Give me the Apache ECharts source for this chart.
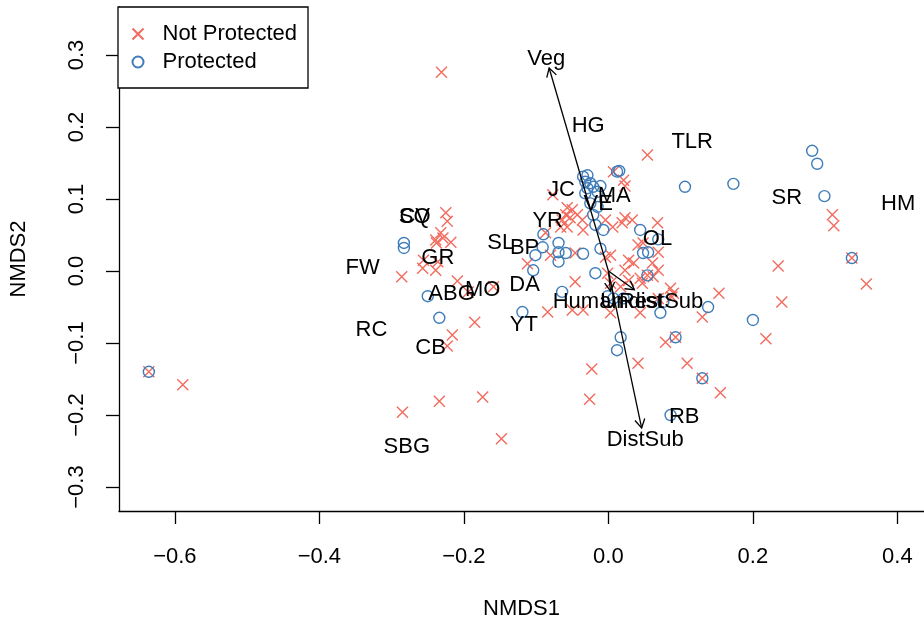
<!DOCTYPE html>
<html>
<head>
<meta charset="utf-8">
<script src="https://cdn.jsdelivr.net/npm/echarts@6/dist/echarts.min.js"></script>
<style>
  html, body { margin: 0; padding: 0; background: #fff; }
  #chart { width: 924px; height: 626px; }
</style>
</head>
<body>
<div id="chart"></div>
<script>
// NMDS site scores: not protected sites
const npX = [-0.636,-0.589,-0.231,-0.285,-0.234,-0.174,-0.148,-0.023,-0.026,0.041,0.109,0.130,0.155,0.079,0.093,0.054,
  0.310,0.312,0.337,0.357,0.235,0.240,0.218,0.153,0.130,
  -0.225,-0.223,-0.232,-0.239,-0.229,-0.218,-0.238,-0.256,-0.236,-0.257,-0.239,-0.286,-0.209,-0.194,-0.159,-0.185,-0.216,-0.223,
  -0.077,-0.057,-0.050,-0.059,-0.064,-0.053,-0.043,-0.036,-0.066,-0.087,-0.057,-0.035,0.007,0.021,0.023,0.023,0.033,0.019,0.006,-0.004,
  0.068,0.048,0.003,0.028,0.035,0.061,0.069,0.023,-0.001,0.044,0.062,0.086,0.090,0.069,0.003,0.054,-0.112,-0.080,-0.046,-0.046,
  -0.084,-0.050,-0.035,0.044,0.041,0.069,0.088,0.003,0.028,0.017,0.047,-0.004];
const npY = [-0.140,-0.158,0.276,-0.196,-0.181,-0.175,-0.233,-0.136,-0.178,-0.128,-0.128,-0.149,-0.169,-0.099,-0.092,0.161,
  0.078,0.063,0.018,-0.018,0.007,-0.043,-0.094,-0.031,-0.064,
  0.081,0.069,0.053,0.043,0.046,0.040,0.039,0.015,0.013,0.004,0.001,-0.008,-0.014,-0.029,-0.022,-0.071,-0.089,-0.104,
  0.106,0.088,0.085,0.078,0.071,0.074,0.078,0.071,0.061,0.053,0.061,0.057,0.138,0.126,0.118,0.074,0.071,0.067,0.061,0.071,
  0.067,0.039,0.022,0.015,0.011,0.011,0.001,0.001,-0.003,-0.010,-0.008,-0.024,-0.031,-0.038,-0.058,-0.006,0.010,0.022,0.025,-0.015,
  -0.057,-0.054,-0.054,-0.058,0.036,0.026,-0.036,-0.017,-0.013,-0.022,-0.017,0.019];

// NMDS site scores: protected sites
const pX = [-0.636,-0.283,-0.283,-0.250,-0.234,-0.119,-0.064,-0.104,-0.018,-0.069,-0.101,-0.069,-0.059,-0.069,-0.090,-0.091,
  -0.035,-0.011,-0.007,-0.018,-0.021,-0.015,-0.025,-0.035,-0.029,-0.032,-0.025,-0.021,-0.029,-0.032,-0.015,-0.011,0.012,0.015,
  0.106,0.173,0.282,0.289,0.299,0.337,0.044,0.048,0.055,0.069,0.054,0.076,0.072,0.138,0.200,-0.001,0.007,0.021,0.017,0.012,
  0.093,0.130,0.086];
const pY = [-0.140,0.039,0.032,-0.035,-0.065,-0.057,-0.029,0.001,-0.003,0.013,0.022,0.026,0.025,0.039,0.051,0.033,
  0.024,0.031,0.057,0.064,0.078,0.089,0.094,0.131,0.133,0.124,0.122,0.117,0.115,0.108,0.110,0.118,0.138,0.139,
  0.117,0.121,0.167,0.149,0.104,0.018,0.057,0.025,0.026,0.044,-0.006,-0.043,-0.058,-0.050,-0.068,-0.035,-0.038,-0.038,-0.092,-0.110,
  -0.092,-0.149,-0.200];

// Site name labels and their ordination positions
const siteNames = ['HG','TLR','SR','HM','JC','MA','VE','YR','SQ','CV','GR','FW','SL','BP','DA','MO','ABG','YT','RC','CB','SBG','OL','RB'];
const siteX = [-0.028,0.116,0.247,0.401,-0.065,0.008,-0.014,-0.084,-0.268,-0.268,-0.236,-0.340,-0.149,-0.116,-0.116,-0.174,-0.217,-0.117,-0.328,-0.246,-0.279,0.068,0.105];
const siteY = [0.201,0.179,0.101,0.093,0.113,0.104,0.093,0.069,0.075,0.075,0.018,0.004,0.039,0.032,-0.019,-0.026,-0.032,-0.075,-0.082,-0.107,-0.244,0.044,-0.203];

// Fitted environmental vectors (arrow tips)
const arrowNames = ['Veg','DistSub','Human','RestSub'];
const arrowX = [-0.082,0.046,0.003,0.036];
const arrowY = [0.282,-0.218,-0.028,-0.026];

// Environmental vector labels
const envNames = ['Veg','DistSub','Human','Undist','RestSub'];
const envX = [-0.086,0.051,-0.028,0.032,0.073];
const envY = [0.294,-0.235,-0.043,-0.043,-0.043];

// Axis ticks
const xTicks = [-0.6,-0.4,-0.2,0.0,0.2,0.4];
const yTicks = [-0.3,-0.2,-0.1,0.0,0.1,0.2,0.3];

const FONT = 'Liberation Sans, Arial, Helvetica, sans-serif';
const RED = '#F26B5E';
const BLUE = '#3F7DBA';
const fmt = v => (v < -1e-9 ? '\u2212' : '') + Math.abs(v).toFixed(1);

const chart = echarts.init(document.getElementById('chart'), null, { renderer: 'canvas' });

const textSeries = (name, xs, ys, labels) => ({
  name: name,
  type: 'scatter',
  silent: true,
  symbolSize: 0,
  itemStyle: { color: 'transparent', opacity: 1 },
  data: xs.map((x, i) => [x, ys[i], labels[i]]),
  label: {
    show: true,
    position: 'inside',
    formatter: p => p.data[2],
    color: '#000',
    opacity: 1,
    textBorderWidth: 0,
    fontSize: 22,
    fontFamily: FONT
  },
  emphasis: { disabled: true },
  z: 5
});

chart.setOption({
  animation: false,
  backgroundColor: '#fff',
  grid: { left: 118, top: 7, right: 0, bottom: 115, containLabel: false },
  xAxis: {
    type: 'value',
    min: -0.6773, max: 0.4368,
    splitLine: { show: false },
    axisLine: { onZero: false, lineStyle: { color: '#000', width: 1.3 } },
    axisTick: { customValues: xTicks, length: 13, lineStyle: { color: '#000', width: 1.3 } },
    axisLabel: { customValues: xTicks, formatter: fmt, color: '#000', fontSize: 22, fontFamily: FONT, margin: 35 },
    name: 'NMDS1',
    nameLocation: 'middle',
    nameGap: 87,
    nameTextStyle: { color: '#000', fontSize: 22, fontFamily: FONT }
  },
  yAxis: {
    type: 'value',
    min: -0.3333, max: 0.3667,
    splitLine: { show: false },
    axisLine: { onZero: false, lineStyle: { color: '#000', width: 1.3 } },
    axisTick: { customValues: yTicks, length: 13, lineStyle: { color: '#000', width: 1.3 } },
    axisLabel: { customValues: yTicks, formatter: fmt, rotate: 90, color: '#000', fontSize: 22, fontFamily: FONT, margin: 31 },
    name: 'NMDS2',
    nameLocation: 'middle',
    nameGap: 89,
    nameRotate: 90,
    nameTextStyle: { color: '#000', fontSize: 22, fontFamily: FONT }
  },
  legend: {
    data: ['Not Protected', 'Protected'],
    orient: 'vertical',
    left: 118,
    top: 7,
    backgroundColor: '#fff',
    borderColor: '#000',
    borderWidth: 1.3,
    borderRadius: 0,
    padding: [16, 11, 15, 12],
    itemGap: 6,
    itemWidth: 11,
    itemHeight: 11,
    selectedMode: false,
    textStyle: { color: '#000', fontSize: 22, fontFamily: FONT, padding: [0, 0, 0, 14] },
    z: 10
  },
  series: [
    {
      name: 'Not Protected',
      type: 'scatter',
      symbol: 'path://M0,0L10,10M10,0L0,10',
      symbolSize: 11,
      itemStyle: { color: 'none', borderColor: RED, borderWidth: 1.4, opacity: 1 },
      data: npX.map((x, i) => [x, npY[i]]),
      z: 2
    },
    {
      name: 'Protected',
      type: 'scatter',
      symbol: 'circle',
      symbolSize: 11,
      itemStyle: { color: 'none', borderColor: BLUE, borderWidth: 1.4, opacity: 1 },
      data: pX.map((x, i) => [x, pY[i]]),
      z: 3
    },
    {
      name: 'vectors',
      type: 'custom',
      silent: true,
      data: arrowX.map((x, i) => [x, arrowY[i], arrowNames[i]]),
      renderItem: function (params, api) {
        const o = api.coord([0, 0]);
        const e = api.coord([api.value(0), api.value(1)]);
        const ang = Math.atan2(e[1] - o[1], e[0] - o[0]);
        const L = 10, a = Math.PI / 6;
        const h1 = [e[0] - L * Math.cos(ang - a), e[1] - L * Math.sin(ang - a)];
        const h2 = [e[0] - L * Math.cos(ang + a), e[1] - L * Math.sin(ang + a)];
        return {
          type: 'group',
          children: [
            { type: 'line', shape: { x1: o[0], y1: o[1], x2: e[0], y2: e[1] }, style: { stroke: '#000', lineWidth: 1.3 } },
            { type: 'polyline', shape: { points: [h1, e, h2] }, style: { stroke: '#000', fill: null, lineWidth: 1.3 } }
          ]
        };
      },
      z: 4
    },
    textSeries('sites', siteX, siteY, siteNames),
    textSeries('env', envX, envY, envNames)
  ]
});
</script>
</body>
</html>
